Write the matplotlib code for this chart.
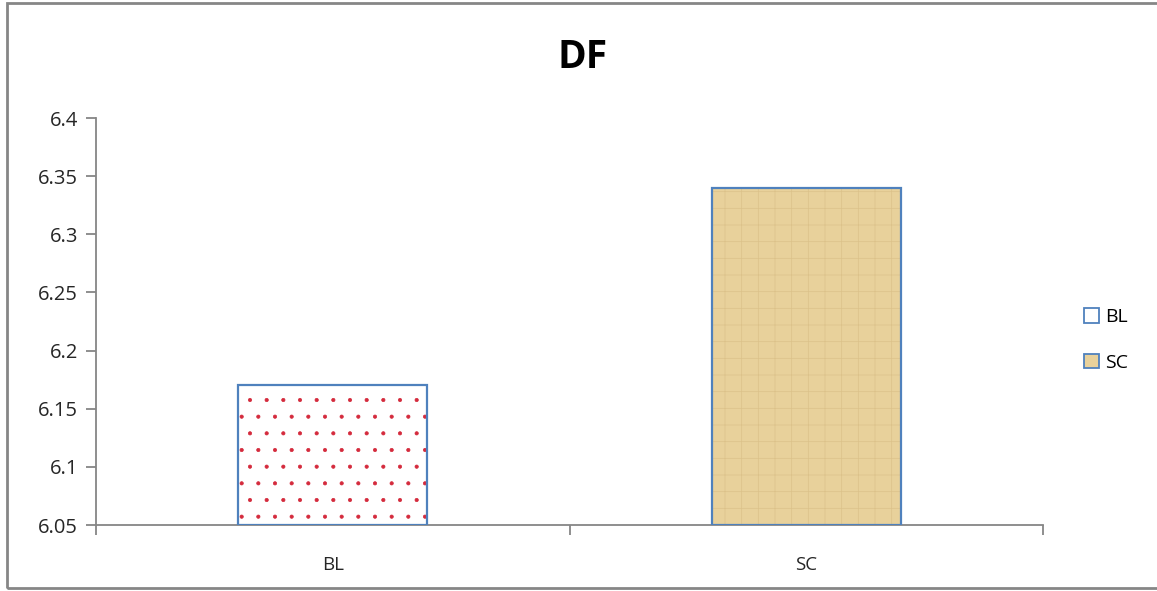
import matplotlib
matplotlib.use("Agg")
import matplotlib.pyplot as plt
from matplotlib.patches import Rectangle, Patch

categories = ["BL", "SC"]
values = [6.17, 6.34]
yticks = [6.05, 6.1, 6.15, 6.2, 6.25, 6.3, 6.35, 6.4]
ytick_labels = ["6.05", "6.1", "6.15", "6.2", "6.25", "6.3", "6.35", "6.4"]

plt.rcParams['font.family'] = ['Open Sans', 'DejaVu Sans']
plt.rcParams['hatch.linewidth'] = 0.5

fig = plt.figure(figsize=(11.57, 5.91), dpi=100)
ax = fig.add_axes([96/1157, 1-525/591, (1043-96)/1157, (525-118)/591])

x = [0, 1]
base = 6.05
w = 0.40
edge_blue = "#4f81bd"
tan = "#e8d19b"

# BL: dotted red pattern on white
ax.bar(x[0], values[0]-base, bottom=base, width=w, facecolor="white",
       edgecolor="#d42a3c", hatch=".", linewidth=0, zorder=2)
ax.bar(x[0], values[0]-base, bottom=base, width=w, facecolor="none",
       edgecolor=edge_blue, linewidth=1.6, zorder=3)
# SC: tan papyrus texture
ax.bar(x[1], values[1]-base, bottom=base, width=w, facecolor=tan,
       edgecolor="#dcc28a", hatch="+", linewidth=0, zorder=2)
ax.bar(x[1], values[1]-base, bottom=base, width=w, facecolor="none",
       edgecolor=edge_blue, linewidth=1.6, zorder=3)

ax.set_xlim(-0.5, 1.5)
ax.set_ylim(6.05, 6.4)
ax.set_yticks(yticks)
ax.set_yticklabels(ytick_labels)
ax.set_xticks(x)
ax.set_xticklabels(categories)
ax.set_xticks([-0.5, 0.5, 1.5], minor=True)
ax.tick_params(axis='x', which='major', length=0, pad=22, labelsize=13.5, colors="#262626")
ax.tick_params(axis='x', which='minor', length=7, width=1.3, color="#868686", direction='out')
ax.tick_params(axis='y', length=7, width=1.3, color="#868686", labelsize=14.5, labelcolor="#262626", pad=6)
for s in ["top", "right"]:
    ax.spines[s].set_visible(False)
for s in ["left", "bottom"]:
    ax.spines[s].set_color("#868686")
    ax.spines[s].set_linewidth(1.3)

fig.text(583/1157, 1-57/591, "DF", ha="center", va="center",
         fontsize=28, fontweight="bold", color="black")

handles = [Patch(facecolor="white", edgecolor=edge_blue, linewidth=1.3),
           Patch(facecolor=tan, edgecolor=edge_blue, linewidth=1.3)]
leg = fig.legend(handles, categories, loc="center left",
                 bbox_to_anchor=(1066/1157, 1-340/591), frameon=False,
                 fontsize=14, handlelength=0.8, handleheight=0.8,
                 handletextpad=0.3, labelspacing=1.4)

fig.patches.append(Rectangle((7/1157, 3/591), 1.2, 1-6/591, transform=fig.transFigure,
                             fill=False, edgecolor="#868686", linewidth=2.0))

fig.savefig("out.png", dpi=100)
